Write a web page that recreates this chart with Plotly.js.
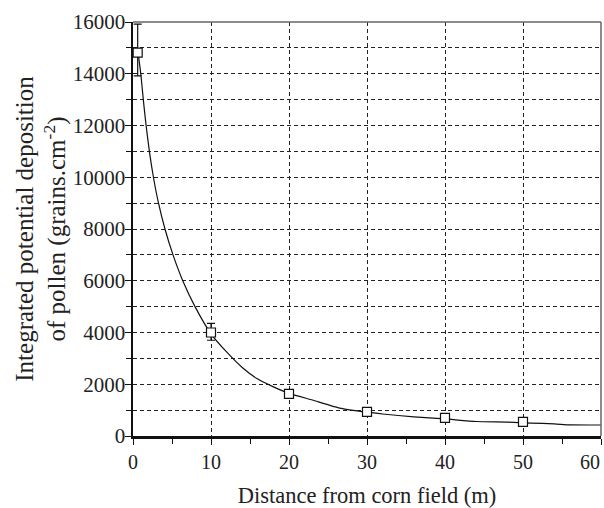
<!DOCTYPE html>
<html>
<head>
<meta charset="utf-8">
<script src="https://cdn.plot.ly/plotly-3.0.1.min.js"></script>
<style>
  html, body { margin: 0; padding: 0; background: #fff; }
  #chart { width: 604px; height: 508px; }
</style>
</head>
<body>
<div id="chart"></div>
<script>
// Observed data points (distance m, deposition grains/cm2)
const pointDistance = [0.6, 10, 20, 30, 40, 50];
const pointDeposition = [14820, 4000, 1630, 930, 700, 545];
const errPlus = [1100, 350, 0, 0, 0, 0];
const errMinus = [900, 300, 0, 0, 0, 0];

// Fitted curve
const curveDistance = [0.7, 1.0, 1.32, 1.68, 2.1, 2.62, 3.27, 4.1, 5.13, 6.38, 7.95, 10, 12, 14, 16, 18, 20, 23, 26.5, 30, 32, 36, 40, 44, 48, 51, 54, 56, 60];
const curveDeposition = [14700, 14000, 13000, 12000, 11000, 10000, 9000, 8000, 7000, 6000, 5000, 3950, 3250, 2650, 2200, 1900, 1650, 1390, 1080, 920, 850, 740, 660, 560, 540, 500, 470, 430, 425];

// Tick labels
const xTickVals = [0, 10, 20, 30, 40, 50, 60];
const xTickText = ["0", "10", "20", "30", "40", "50", "60"];
const yTickVals = [0, 2000, 4000, 6000, 8000, 10000, 12000, 14000, 16000];
const yTickText = ["0", "2000", "4000", "6000", "8000", "10000", "12000", "14000", "16000"];
const lastXLabel = "60";

const FONT = "Liberation Serif";
const gridDash = "4px,3px";

const traces = [
  {
    x: curveDistance, y: curveDeposition,
    type: "scatter", mode: "lines",
    line: {color: "#111", width: 1.2, shape: "spline", smoothing: 0.5},
    hoverinfo: "skip", showlegend: false
  },
  {
    x: pointDistance, y: pointDeposition,
    type: "scatter", mode: "markers",
    marker: {symbol: "square", size: 9, color: "#fff", line: {color: "#111", width: 1.2}},
    error_y: {type: "data", symmetric: false, array: errPlus, arrayminus: errMinus,
              color: "#111", thickness: 1.2, width: 4},
    showlegend: false
  }
];

const layout = {
  width: 604, height: 508,
  margin: {l: 133, r: 3, t: 22, b: 72},
  paper_bgcolor: "#fff", plot_bgcolor: "#fff",
  font: {family: FONT, color: "#222", size: 20},
  xaxis: {
    range: [0, 60], tickvals: xTickVals, ticktext: xTickText,
    showline: true, linecolor: "#111", linewidth: 2.5,
    ticks: "outside", ticklen: 6, tickcolor: "#111", tickwidth: 1,
    showgrid: true, gridcolor: "#222", gridwidth: 1, griddash: gridDash,
    minor: {dtick: 5, tick0: 0, ticks: "outside", ticklen: 5, tickcolor: "#111", showgrid: false},
    zeroline: false,
    tickfont: {family: FONT, size: 20, color: "#222"},
    title: {text: "Distance from corn field (m)", font: {family: FONT, size: 22.5, color: "#222"}, standoff: 16}
  },
  yaxis: {
    range: [0, 16000], tickvals: yTickVals, ticktext: yTickText,
    showline: true, linecolor: "#111", linewidth: 2.5,
    ticks: "outside", ticklen: 6, tickcolor: "#111", tickwidth: 1,
    ticklabelstandoff: -5,
    showgrid: true, gridcolor: "#222", gridwidth: 1, griddash: gridDash,
    minor: {dtick: 1000, tick0: 0, ticks: "outside", ticklen: 5, tickcolor: "#111",
            showgrid: true, gridcolor: "#222", gridwidth: 1, griddash: gridDash},
    zeroline: false,
    tickfont: {family: FONT, size: 21, color: "#222"},
    title: {text: "Integrated potential deposition<br>of pollen (grains.cm<sup>-2</sup>)",
            font: {family: FONT, size: 25, color: "#222"}, standoff: 0}
  },
  annotations: [
    {xref: "x", yref: "paper", x: 60, y: 0, text: lastXLabel, showarrow: false,
     xanchor: "right", yanchor: "top", yshift: -13, xshift: 1,
     font: {family: FONT, size: 20, color: "#222"}}
  ],
  shapes: [
    {type: "line", xref: "paper", yref: "paper", x0: 0, x1: 1, y0: 1, y1: 1,
     line: {color: "#666", width: 1.5}},
    {type: "line", xref: "paper", yref: "paper", x0: 1, x1: 1, y0: 0, y1: 1,
     line: {color: "#666", width: 1.5}}
  ]
};

Plotly.newPlot("chart", traces, layout, {displayModeBar: false, staticPlot: true});
</script>
</body>
</html>
